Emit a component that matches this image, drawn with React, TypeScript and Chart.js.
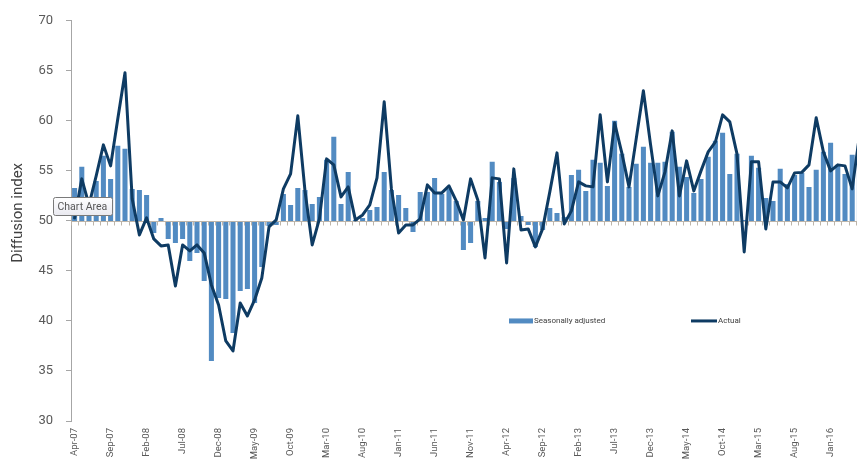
import React, { useEffect, useRef } from 'react';
import { Chart, registerables } from 'chart.js';

Chart.register(...registerables);

const FONT = 'Roboto, "Open Sans", sans-serif';

// Monthly series, starting April 2007
const START_YEAR = 2007;
const START_MONTH = 3; // 0-based: April
const MONTH_NAMES = ['Jan', 'Feb', 'Mar', 'Apr', 'May', 'Jun', 'Jul', 'Aug', 'Sep', 'Oct', 'Nov', 'Dec'];

const seasonallyAdjusted = [
  53.3, 55.4, 51.8, 54.0, 56.5, 54.2, 57.5, 57.2, 53.2, 53.1,
  52.6, 48.8, 50.3, 48.2, 47.8, 48.2, 46.0, 46.8, 44.0, 36.0,
  42.3, 42.2, 38.8, 43.0, 43.2, 41.8, 45.4, 49.5, 49.6, 52.7,
  51.6, 53.3, 53.1, 51.7, 52.4, 56.1, 58.4, 51.7, 54.9, 50.1,
  50.3, 51.1, 51.4, 54.9, 53.1, 52.6, 51.3, 48.9, 52.9, 52.9,
  54.3, 52.7, 53.2, 52.0, 47.1, 47.8, 52.0, 50.3, 55.9, 53.9,
  49.2, 54.3, 50.5, 49.6, 47.4, 49.1, 51.3, 50.8, 50.4, 54.6,
  55.1, 53.0, 56.1, 55.8, 53.5, 60.0, 56.7, 53.4, 55.7, 57.4,
  55.8, 55.8, 55.9, 58.9, 55.4, 54.4, 52.8, 54.2, 56.4, 58.0,
  58.8, 54.7, 56.7, 50.1, 56.5, 55.3, 52.3, 52.0, 55.2, 53.7,
  54.6, 54.8, 53.4, 55.1, 56.9, 57.8, 55.6, 54.7, 56.6, 57.5,
];

const actual = [
  50.3, 54.2, 51.6, 54.5, 57.6, 55.5, 60.2, 64.8, 52.2, 48.6,
  50.3, 48.2, 47.5, 47.6, 43.5, 47.6, 47.0, 47.6, 46.8, 43.6,
  41.6, 38.0, 37.0, 41.8, 40.5, 42.1, 44.3, 49.4, 50.1, 53.2,
  54.7, 60.5, 53.0, 47.6, 50.2, 56.2, 55.6, 52.4, 53.4, 50.1,
  50.6, 51.6, 54.3, 61.9, 53.2, 48.8, 49.6, 49.6, 50.2, 53.6,
  52.8, 52.8, 53.5, 52.0, 50.1, 54.2, 52.1, 46.3, 54.3, 54.2,
  45.8, 55.2, 49.1, 49.2, 47.4, 49.2, 52.9, 56.8, 49.7, 51.0,
  53.9, 53.5, 53.4, 60.6, 53.9, 59.8, 56.8, 53.4, 58.2, 63.0,
  57.6, 52.5, 54.9, 59.0, 52.5, 56.0, 53.0, 55.0, 56.9, 57.9,
  60.6, 59.9, 56.7, 46.9, 55.9, 55.9, 49.2, 53.9, 53.9, 53.3,
  54.8, 54.85, 55.6, 60.3, 56.9, 55.0, 55.6, 55.5, 53.2, 58.5,
];

const Y_MIN = 30;
const Y_MAX = 70;
const Y_STEP = 5;
const BASELINE = 50;
const LABEL_EVERY = 5;
const LEGEND_VALUE = 40;
const Y_TITLE = 'Diffusion index';

const BAR_COLOR = '#528bc2';
const LINE_COLOR = '#0e3b63';
const TEXT_COLOR = '#595959';

const months = seasonallyAdjusted.map((_, i) => {
  const m = START_MONTH + i;
  const year = START_YEAR + Math.floor(m / 12);
  return `${MONTH_NAMES[m % 12]}-${String(year % 100).padStart(2, '0')}`;
});

// Category axis crossing at 50, axis title, the in-plot legend and the hover badge
const overlayPlugin = {
  id: 'overlay',
  afterDatasetDraw(chart: any, args: any) {
    if (args.meta.type !== 'bar') return;
    const { ctx, chartArea, scales } = chart;
    const xs = scales.x;
    const y0 = Math.round(scales.y.getPixelForValue(BASELINE)) + 0.5;
    const half = (xs.getPixelForValue(1) - xs.getPixelForValue(0)) / 2;
    ctx.save();
    ctx.strokeStyle = '#bdb5aa';
    ctx.lineWidth = 1;
    ctx.beginPath();
    ctx.moveTo(chartArea.left, y0);
    ctx.lineTo(chartArea.right, y0);
    for (let k = 0; k <= months.length; k++) {
      const px = Math.round(xs.getPixelForValue(k) - half) + 0.5;
      ctx.moveTo(px, y0);
      ctx.lineTo(px, y0 + 4);
    }
    ctx.stroke();
    ctx.restore();
  },
  afterDraw(chart: any) {
    const { ctx, scales, chartArea } = chart;

    // value-axis title
    ctx.save();
    ctx.translate(18, (chartArea.top + chartArea.bottom) / 2 - 8);
    ctx.rotate(-Math.PI / 2);
    ctx.fillStyle = '#404040';
    ctx.font = `15px ${FONT}`;
    ctx.textAlign = 'center';
    ctx.textBaseline = 'middle';
    ctx.fillText(Y_TITLE, 0, 0);
    ctx.restore();

    const ly = scales.y.getPixelForValue(LEGEND_VALUE);
    ctx.save();
    // legend: seasonally adjusted
    ctx.fillStyle = BAR_COLOR;
    ctx.fillRect(509, ly - 2.5, 24, 5);
    ctx.fillStyle = '#404040';
    ctx.font = `8px ${FONT}`;
    ctx.textBaseline = 'middle';
    ctx.textAlign = 'left';
    ctx.fillText('Seasonally adjusted', 534, ly);
    // legend: actual
    ctx.strokeStyle = LINE_COLOR;
    ctx.lineWidth = 3;
    ctx.beginPath();
    ctx.moveTo(691, ly);
    ctx.lineTo(717, ly);
    ctx.stroke();
    ctx.fillText('Actual', 718, ly);

    // "Chart Area" badge
    const bx = 53.5, by = 197.5, bw = 59, bh = 18;
    const g = ctx.createLinearGradient(0, by, 0, by + bh);
    g.addColorStop(0, '#ffffff');
    g.addColorStop(1, '#e9e9f0');
    ctx.fillStyle = g;
    ctx.strokeStyle = '#7a7a7a';
    ctx.lineWidth = 1;
    ctx.beginPath();
    ctx.roundRect(bx, by, bw, bh, 2);
    ctx.fill();
    ctx.stroke();
    ctx.fillStyle = '#575757';
    ctx.font = `10.5px ${FONT}`;
    ctx.textBaseline = 'middle';
    ctx.fillText('Chart Area', bx + 4, by + bh / 2 + 0.5);
    ctx.restore();
  },
};

export default function App() {
  const canvasRef = useRef<HTMLCanvasElement | null>(null);

  useEffect(() => {
    const canvas = canvasRef.current;
    if (!canvas) return;
    const chart = new Chart(canvas, {
      type: 'bar',
      data: {
        labels: months,
        datasets: [
          {
            type: 'line',
            label: 'Actual',
            data: actual,
            borderColor: LINE_COLOR,
            borderWidth: 3,
            pointRadius: 0,
            tension: 0,
            borderJoinStyle: 'round',
            borderCapStyle: 'round',
            order: 0,
          } as any,
          {
            type: 'bar',
            label: 'Seasonally adjusted',
            data: seasonallyAdjusted.map((v) => [BASELINE, v]),
            backgroundColor: BAR_COLOR,
            borderWidth: 0,
            barPercentage: 0.7,
            categoryPercentage: 1,
            order: 1,
          } as any,
        ],
      },
      options: {
        responsive: false,
        animation: false,
        devicePixelRatio: 1,
        layout: { padding: { top: 17, right: 0, bottom: 0, left: 0 } },
        plugins: {
          legend: { display: false },
          tooltip: { enabled: false },
        },
        scales: {
          x: {
            offset: true,
            grid: { display: false, drawTicks: false },
            border: { display: false },
            ticks: {
              autoSkip: false,
              minRotation: 90,
              maxRotation: 90,
              padding: 7,
              color: TEXT_COLOR,
              font: { family: FONT, size: 9.5 },
              callback: (_v: any, index: number) =>
                index % LABEL_EVERY === 0 ? months[index] : null,
            },
            afterFit: (scale: any) => {
              scale.height = 42;
            },
          },
          y: {
            min: Y_MIN,
            max: Y_MAX,
            ticks: {
              stepSize: Y_STEP,
              padding: 13,
              color: TEXT_COLOR,
              font: { family: FONT, size: 13 },
            },
            grid: {
              drawOnChartArea: false,
              drawTicks: true,
              tickLength: 5,
              color: '#a6a6a6',
            },
            border: { display: true, color: '#a6a6a6' },
            afterFit: (scale: any) => {
              scale.width = 71;
            },
          },
        },
      },
      plugins: [overlayPlugin],
    });
    return () => chart.destroy();
  }, []);

  return (
    <div
      style={{
        position: 'fixed',
        left: 0,
        top: 0,
        width: 857,
        height: 463,
        overflow: 'hidden',
        background: '#ffffff',
      }}
    >
      <canvas ref={canvasRef} width={863} height={463} style={{ display: 'block' }} />
    </div>
  );
}
